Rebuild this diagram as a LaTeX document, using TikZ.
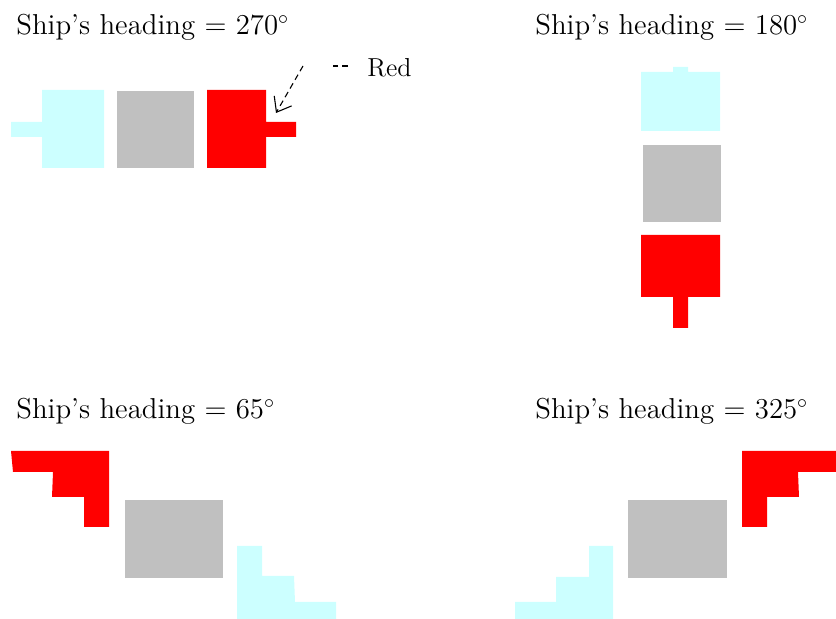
\documentclass[tikz,border=0pt]{standalone}
\usepackage{tikz}
\usetikzlibrary{arrows.meta}
\definecolor{palecyan}{HTML}{CCFFFF}
\definecolor{hullgray}{HTML}{C0C0C0}
\definecolor{portred}{HTML}{FF0000}

\begin{document}
\begin{tikzpicture}[x=0.5pt,y=-0.5pt,
  heading/.style={anchor=base west,inner sep=0pt,font=\Large},
  callout/.style={line width=0.55pt,dash pattern=on 3pt off 2pt}]
  \useasboundingbox (0,0) rectangle (836,619);
  % heading 270
  \node[heading] (h270) at (16,35) {Ship's heading = 270$^\circ$};
  \fill[palecyan] (11,122) -- (42,122) -- (42,90) -- (104,90) -- (104,168) -- (42,168) -- (42,137) -- (11,137) -- cycle;
  \fill[hullgray] (117,91) rectangle (194,168);
  \fill[portred] (207,90) -- (266,90) -- (266,122) -- (296,122) -- (296,137) -- (266,137) -- (266,168) -- (207,168) -- cycle;
  \node[anchor=base west,inner sep=0pt,font=\fontsize{13}{15}\selectfont] (redlbl) at (367,77) {Red};
  \coordinate (leadR) at (348,66);
  \coordinate (leadL) at (333,66);
  \coordinate (arrtail) at (303,66);
  \coordinate (arrtip) at (276,113);
  \draw[callout] (leadR) -- (leadL);
  \draw[callout,-{Straight Barb[length=6.5pt,width=10pt]}] (arrtail) -- (arrtip);
  % heading 180
  \node[heading] (h180) at (535,35) {Ship's heading = 180$^\circ$};
  \fill[palecyan] (641,72) -- (673,72) -- (673,67) -- (688,67) -- (688,72) -- (720,72) -- (720,131) -- (641,131) -- cycle;
  \fill[hullgray] (643,145) rectangle (721,222);
  \fill[portred] (641,235) -- (720,235) -- (720,297) -- (688,297) -- (688,328) -- (673,328) -- (673,297) -- (641,297) -- cycle;
  % heading 65
  \node[heading] (h65) at (16,419) {Ship's heading = 65$^\circ$};
  \fill[portred] (11,451) -- (109,451) -- (109,527) -- (84,527) -- (84,497) -- (52,497) -- (53,472) -- (13,472) -- cycle;
  \fill[hullgray] (125,500) rectangle (223,578);
  \fill[palecyan] (237,546) -- (262,546) -- (262,576) -- (294,576) -- (295,602) -- (336,602) -- (336,619) -- (237,619) -- cycle;
  % heading 325
  \node[heading] (h325) at (535,419) {Ship's heading = 325$^\circ$};
  \fill[portred] (742,451) -- (836,451) -- (836,472) -- (798,472) -- (799,497) -- (767,497) -- (767,527) -- (742,527) -- cycle;
  \fill[hullgray] (628,500) rectangle (727,578);
  \fill[palecyan] (589,546) -- (613,546) -- (613,619) -- (515,619) -- (515,602) -- (556,602) -- (556,577) -- (589,577) -- cycle;
\end{tikzpicture}
\end{document}
